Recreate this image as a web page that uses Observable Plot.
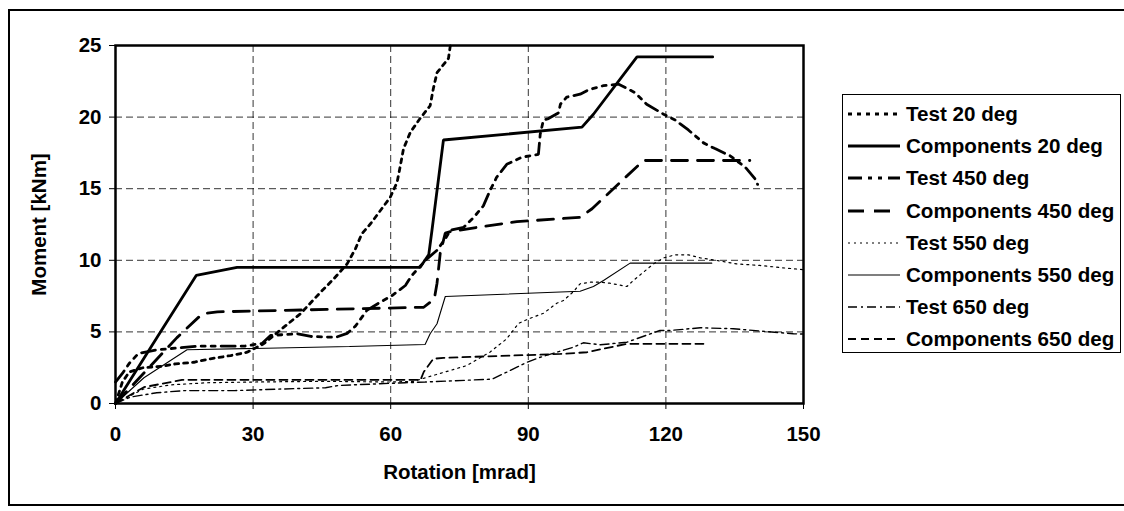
<!DOCTYPE html>
<html><head><meta charset="utf-8">
<script src="https://cdn.jsdelivr.net/npm/d3@7"></script>
<script src="https://cdn.jsdelivr.net/npm/@observablehq/plot@0.6"></script>
<style>
html,body{margin:0;padding:0;background:#fff;}
#wrap{position:relative;width:1124px;height:511px;overflow:hidden;font-family:"Liberation Sans",Arial,sans-serif;}
#outer{position:absolute;left:8px;top:9px;width:1130px;height:497px;border:2px solid #000;box-sizing:border-box;}
#chart{position:absolute;left:0;top:0;}
#legend{position:absolute;left:842px;top:94px;width:279px;height:259px;border:1px solid #000;box-sizing:border-box;background:#fff;}
.item{position:absolute;left:0;height:24px;display:flex;align-items:center;font-weight:bold;font-size:20.6px;white-space:nowrap;}
.item svg{margin-left:5px;margin-right:6px;}
</style></head>
<body><div id="wrap"><div id="outer"></div><div id="chart"></div><div id="legend"></div></div>
<script>
// ---- data (rotation [mrad], moment [kNm]) ----
const xTicks = [0, 30, 60, 90, 120, 150];
const yTicks = [0, 5, 10, 15, 20, 25];

const test20 = [[0,0],[1.5,1.5],[3,2.2],[6,2.5],[10,2.6],[13.1,2.77],[17.1,2.88],[20.7,3.12],[25.1,3.35],[28.7,3.58],[32.3,4.17],[36.7,5.33],[40.3,6.26],[44.7,7.77],[47.6,8.71],[50.5,9.75],[52.3,10.8],[53.7,11.85],[55.6,12.55],[59.9,14.4],[61.4,15.45],[62.1,16.6],[62.8,17.8],[64.3,18.95],[66.4,19.9],[68.6,20.8],[69.3,22],[70.1,23.1],[72.6,24.1],[73,25]];
const comp20 = [[0,0],[9.8,5.0],[17.6,8.94],[26.5,9.5],[66.4,9.5],[68.3,10.4],[69,12.1],[71.5,18.4],[101.7,19.3],[104.2,20.2],[113.7,24.2],[130.2,24.2]];
const test450 = [[0,1.5],[1.5,2.1],[3,2.8],[5,3.5],[9,3.75],[17.8,4.0],[28,4.0],[32,4.2],[33.8,4.75],[39.6,4.87],[42.6,4.68],[48,4.62],[50.5,4.9],[52.3,5.4],[54.8,6.5],[57.7,7.07],[60.3,7.54],[63.2,8.24],[64.6,8.94],[67.9,10.1],[70.1,10.7],[71.9,11.5],[73,12.1],[75.9,12.3],[78.1,13],[80.2,13.8],[81.7,14.9],[83.1,15.8],[85.3,16.7],[88.6,17.2],[92.2,17.4],[92.6,18.8],[93.3,19.8],[94.4,19.9],[96.6,20.3],[97,20.9],[98.4,21.4],[101.3,21.6],[103.1,21.9],[106.4,22.2],[109.7,22.3],[113.3,21.7],[115.8,20.9],[119.5,20.2],[122,19.8],[124.9,19.1],[128.2,18.2],[130.7,17.8],[134,17.3],[137.3,16.5],[139.4,15.7],[140,15.3]];
const comp450 = [[0,0],[13.4,4.6],[18.9,6.26],[22.2,6.4],[67.2,6.72],[69.5,7.3],[70.1,8.4],[70.8,10.5],[71.9,11.9],[73,12],[78.8,12.3],[87.5,12.7],[101.3,13.0],[103.9,13.6],[115.1,16.97],[138.3,16.97]];
const test550 = [[0,0],[3,0.5],[6,1.0],[12,1.3],[20,1.45],[30,1.5],[45,1.55],[60,1.5],[65,1.55],[69.3,1.96],[76.6,2.65],[81.7,3.6],[85.3,4.52],[87.9,5.6],[90,5.9],[93.3,6.3],[96.2,7.0],[97.7,7.2],[99.8,7.8],[101.3,8.36],[103.5,8.47],[105.7,8.47],[107.8,8.4],[111.5,8.17],[112.9,8.59],[115.1,9.17],[117.3,9.75],[119.5,10.17],[122,10.38],[124.9,10.38],[127.5,10.17],[131.1,9.99],[135.4,9.75],[140.5,9.64],[146.3,9.45],[150,9.35]];
const comp550 = [[0,0],[6.2,1.8],[15.6,3.75],[51,3.98],[67.5,4.12],[68.6,4.87],[70.1,5.57],[71.9,7.47],[101.3,7.84],[104.2,8.17],[106.4,8.59],[112.2,9.8],[130,9.8]];
const test650 = [[0,0],[3.3,0.45],[9,0.75],[15,0.9],[26,0.9],[35,1.0],[45.8,1.1],[48.6,1.26],[63.2,1.45],[67.5,1.5],[82.1,1.7],[85.3,2.19],[89.7,2.88],[92.6,3.23],[96.2,3.58],[99.8,3.93],[102,4.24],[105.7,4.1],[111.5,4.28],[118.7,5.1],[121,5.1],[127.5,5.29],[134.7,5.22],[147.8,4.87],[150,4.85]];
const comp650 = [[0,0],[6.2,1.14],[14.5,1.65],[66.5,1.65],[67.2,2.2],[68,2.55],[69.3,3.12],[71.5,3.19],[97,3.46],[102.8,3.58],[111.5,4.17],[128.9,4.17]];

const seriesNames = ["Test 20 deg","Components 20 deg","Test 450 deg","Components 450 deg","Test 550 deg","Components 550 deg","Test 650 deg","Components 650 deg"];
const seriesData = [test20, comp20, test450, comp450, test550, comp550, test650, comp650];
const seriesStyle = [
  {strokeWidth:2.8, dash:"4,5"},
  {strokeWidth:2.8, dash:null},
  {strokeWidth:2.8, dash:"14,6,4,6,4,6"},
  {strokeWidth:2.8, dash:"16,10"},
  {strokeWidth:1.2, dash:"2,4"},
  {strokeWidth:1.1, dash:null},
  {strokeWidth:1.4, dash:"9,4,2,4"},
  {strokeWidth:1.8, dash:"8,5"}
];

const lineMarks = seriesData.map((d, i) => Plot.line(d, {
  x: p => p[0], y: p => p[1], stroke: "#000",
  strokeWidth: seriesStyle[i].strokeWidth,
  strokeDasharray: seriesStyle[i].dash || undefined,
  strokeLinejoin: "miter", curve: "linear"
}));

const chart = Plot.plot({
  width: 1124, height: 511,
  marginLeft: 115, marginRight: 321, marginTop: 45, marginBottom: 108,
  style: {fontFamily: '"Liberation Sans", Arial, sans-serif', fontSize: "20.5px", fontWeight: "bold", background: "transparent", color: "#000", overflow: "visible"},
  x: {domain: [0, 150]},
  y: {domain: [0, 25]},
  marks: [
    Plot.gridX(xTicks.slice(1, -1), {stroke: "#000", strokeOpacity: 0.8, strokeDasharray: "7,4", strokeWidth: 1}),
    Plot.gridY(yTicks.slice(1, -1), {stroke: "#000", strokeOpacity: 0.8, strokeDasharray: "7,4", strokeWidth: 1}),
    ...lineMarks,
    Plot.axisX(xTicks, {tickSize: 6, tickPadding: 17, label: "Rotation [mrad]", labelAnchor: "center", labelArrow: "none", labelOffset: 75, fontWeight: "bold"}),
    Plot.axisY(yTicks, {tickSize: 6, tickPadding: 8, label: "Moment [kNm]", labelAnchor: "center", labelArrow: "none", labelOffset: 84, fontWeight: "bold"}),
    Plot.frame({stroke: "#000", strokeWidth: 2.5})
  ]
});
document.getElementById("chart").appendChild(chart);

// legend
const leg = document.getElementById("legend");
seriesNames.forEach((name, i) => {
  const it = document.createElement("div");
  it.className = "item";
  it.style.top = (19 + i * 32.2 - 12) + "px";
  const st = seriesStyle[i];
  it.innerHTML = `<svg width="52" height="10"><line x1="0" y1="5" x2="52" y2="5" stroke="#000" stroke-width="${st.strokeWidth}" ${st.dash ? `stroke-dasharray="${st.dash}"` : ""}/></svg><span>${name}</span>`;
  leg.appendChild(it);
});
</script></body></html>
